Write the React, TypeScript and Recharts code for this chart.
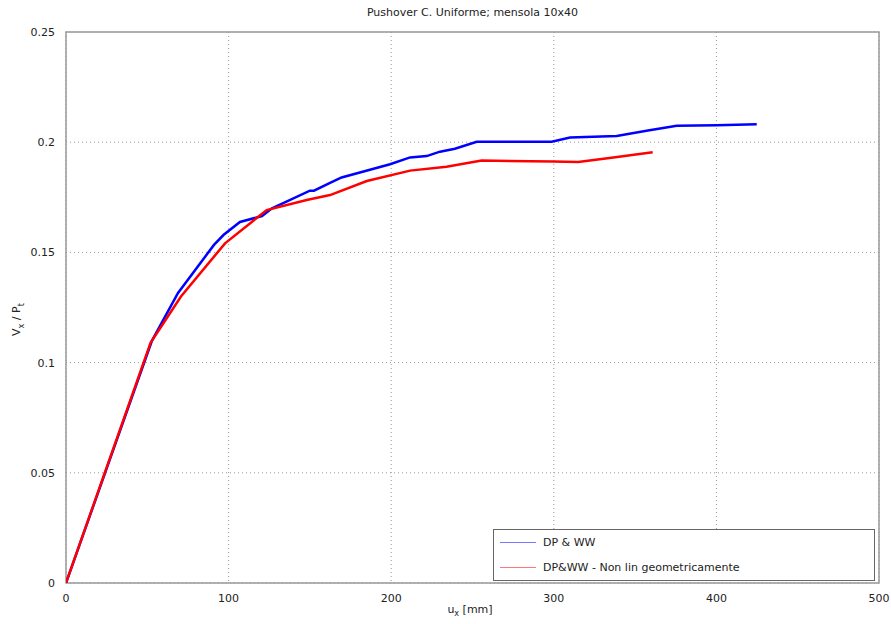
import React from "react";
import { LineChart, Line, XAxis, YAxis, CartesianGrid, ReferenceArea } from "recharts";

const blueU = [0, 52.9, 68.9, 91, 97, 107, 120.5, 126.7, 150, 152.5, 162.4, 169.5, 199.3, 211.6, 221.8, 230, 239.2, 252.6, 298.7, 310, 338.7, 357, 375.6, 400, 424.8];
const blueV = [0, 0.110, 0.1316, 0.1534, 0.158, 0.1638, 0.1665, 0.170, 0.178, 0.178, 0.1815, 0.184, 0.190, 0.1931, 0.1937, 0.1957, 0.197, 0.2002, 0.2002, 0.2021, 0.2028, 0.2052, 0.2075, 0.2077, 0.2081];
const redU = [0, 52, 70.7, 97.8, 123.4, 148, 162.4, 185, 211.6, 234, 255.6, 299.6, 315, 336.6, 360.8];
const redV = [0, 0.109, 0.130, 0.1541, 0.1692, 0.1738, 0.176, 0.1824, 0.1871, 0.1889, 0.1917, 0.1912, 0.191, 0.1931, 0.1954];
const xTicks = [0, 100, 200, 300, 400, 500];
const yTicks = [0, 0.05, 0.1, 0.15, 0.2, 0.25];
const seriesNames = ["DP & WW", "DP&WW - Non lin geometricamente"];
const title = "Pushover C. Uniforme; mensola 10x40";

const blueData = blueU.map((u, i) => ({ u, v: blueV[i] }));
const redData = redU.map((u, i) => ({ u, v: redV[i] }));

const font = "'DejaVu Sans', sans-serif";

export default function App() {
  return (
    <div style={{ position: "absolute", left: 0, top: 0, width: 891, height: 624, background: "#fff", fontFamily: font }}>
      <LineChart width={891} height={624} margin={{ top: 32, right: 12, bottom: 11, left: 6 }}>
        <CartesianGrid stroke="#999" strokeDasharray="1 3" />
        <XAxis
          type="number"
          dataKey="u"
          domain={[0, 500]}
          ticks={xTicks}
          height={30}
          tickLine={false}
          axisLine={false}
          tick={{ fontSize: 11, fill: "#222", fontFamily: font }}
          tickMargin={5}
          allowDataOverflow
        />
        <YAxis
          type="number"
          domain={[0, 0.25]}
          ticks={yTicks}
          width={60}
          tickLine={false}
          axisLine={false}
          tick={{ fontSize: 11, fill: "#222", fontFamily: font }}
          tickMargin={5}
          allowDataOverflow
        />
        <ReferenceArea x1={0} x2={500} y1={0} y2={0.25} fill="none" stroke="#999" strokeWidth={1.5} fillOpacity={0} ifOverflow="visible" />
        <Line data={blueData} dataKey="v" type="linear" stroke="#0000ff" strokeWidth={2.5} dot={false} isAnimationActive={false} />
        <Line data={redData} dataKey="v" type="linear" stroke="#ff0000" strokeWidth={2.5} dot={false} isAnimationActive={false} />
      </LineChart>
      <div style={{ position: "absolute", left: 66, width: 813, top: 6, textAlign: "center", fontSize: 11, color: "#222" }}>{title}</div>
      <div style={{ position: "absolute", left: 420, width: 100, top: 603, textAlign: "center", fontSize: 11, color: "#222" }}>
        u<sub style={{ fontSize: 8 }}>x</sub> [mm]
      </div>
      <div style={{ position: "absolute", left: -32, top: 312, width: 100, textAlign: "center", fontSize: 11, color: "#222", transform: "rotate(-90deg)" }}>
        V<sub style={{ fontSize: 8 }}>x</sub> / P<sub style={{ fontSize: 8 }}>t</sub>
      </div>
      <div style={{ position: "absolute", left: 493, top: 529, width: 380, height: 50, border: "1px solid #666", background: "#fff", fontSize: 11, color: "#222" }}>
        <div style={{ position: "absolute", left: 6, top: 6, display: "flex", alignItems: "center" }}>
          <span style={{ display: "inline-block", width: 36, height: 1, background: "#7777ff", marginRight: 7 }} />
          {seriesNames[0]}
        </div>
        <div style={{ position: "absolute", left: 6, top: 31, display: "flex", alignItems: "center" }}>
          <span style={{ display: "inline-block", width: 36, height: 1, background: "#ff7777", marginRight: 7 }} />
          {seriesNames[1]}
        </div>
      </div>
    </div>
  );
}
